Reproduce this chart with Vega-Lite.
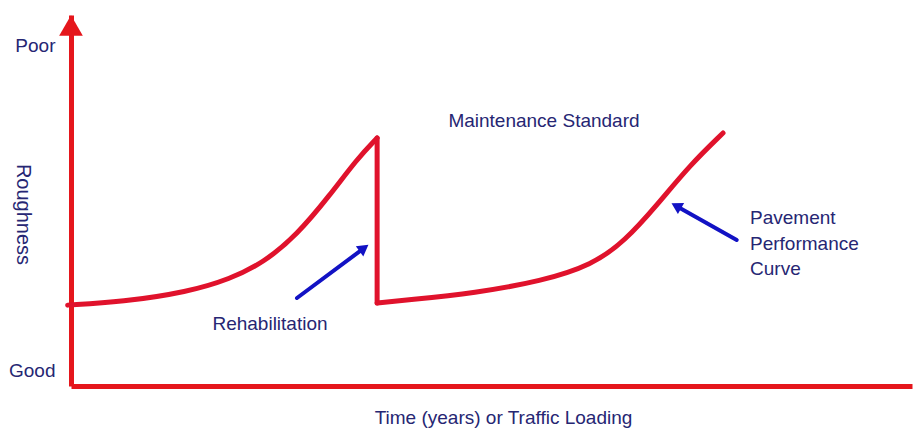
{
  "$schema": "https://vega.github.io/schema/vega-lite/v6.json",
  "width": 841,
  "height": 371,
  "autosize": {"type": "none"},
  "padding": {"left": 71, "top": 15, "right": 3, "bottom": 42},
  "background": "white",
  "config": {"view": {"stroke": null}},
  "datasets": {
    "curve": [
      {"seg": "before", "order": 1, "t": -0.4, "r": 21.8},
      {"seg": "before", "order": 2, "t": 6.06, "r": 22.64},
      {"seg": "before", "order": 3, "t": 13.91, "r": 25.34},
      {"seg": "before", "order": 4, "t": 18.91, "r": 28.84},
      {"seg": "before", "order": 5, "t": 22.83, "r": 33.15},
      {"seg": "before", "order": 6, "t": 26.87, "r": 40.7},
      {"seg": "before", "order": 7, "t": 30.8, "r": 51.48},
      {"seg": "before", "order": 8, "t": 34.01, "r": 61.19},
      {"seg": "before", "order": 9, "t": 36.4, "r": 66.85},
      {"seg": "drop", "order": 1, "t": 36.4, "r": 66.85},
      {"seg": "drop", "order": 2, "t": 36.4, "r": 22.37},
      {"seg": "after", "order": 1, "t": 36.4, "r": 22.37},
      {"seg": "after", "order": 2, "t": 40.07, "r": 23.18},
      {"seg": "after", "order": 3, "t": 48.04, "r": 25.07},
      {"seg": "after", "order": 4, "t": 56.0, "r": 28.3},
      {"seg": "after", "order": 5, "t": 61.95, "r": 32.61},
      {"seg": "after", "order": 6, "t": 65.87, "r": 39.08},
      {"seg": "after", "order": 7, "t": 69.68, "r": 48.79},
      {"seg": "after", "order": 8, "t": 73.6, "r": 59.57},
      {"seg": "after", "order": 9, "t": 77.53, "r": 68.19}
    ],
    "arrows": [
      {"arrow": "rehab", "end": false, "t": 26.87, "r": 23.72},
      {"arrow": "rehab", "end": true, "t": 34.84, "r": 37.17},
      {"arrow": "curve", "end": false, "t": 79.16, "r": 39.35},
      {"arrow": "curve", "end": true, "t": 71.97, "r": 48.54}
    ],
    "axisTip": [
      {"t": 0, "r": 97.2}
    ],
    "notesCenter": [
      {"label": "Maintenance Standard", "t": 56.24, "r": 69.81},
      {"label": "Rehabilitation", "t": 23.66, "r": 15.09}
    ],
    "notesLeft": [
      {"label": "Pavement", "t": 80.74, "r": 43.67},
      {"label": "Performance", "t": 80.74, "r": 36.66},
      {"label": "Curve", "t": 80.74, "r": 29.92}
    ]
  },
  "encoding": {
    "x": {
      "field": "t",
      "type": "quantitative",
      "scale": {"domain": [0, 100], "nice": false, "zero": false},
      "axis": {
        "domain": true,
        "domainColor": "#e5161c",
        "domainWidth": 5,
        "ticks": false,
        "labels": false,
        "grid": false,
        "title": "Time (years) or Traffic Loading",
        "titleFont": "Liberation Sans",
        "titleFontSize": 19,
        "titleFontWeight": "normal",
        "titleColor": "#262673",
        "titleX": 432,
        "titleY": 37,
        "titleAlign": "center",
        "titleBaseline": "alphabetic"
      }
    },
    "y": {
      "field": "r",
      "type": "quantitative",
      "scale": {"domain": [0, 100], "nice": false, "zero": false},
      "axis": {
        "domain": true,
        "domainColor": "#e5161c",
        "domainWidth": 5,
        "ticks": false,
        "tickSize": 0,
        "grid": false,
        "values": [4.31, 91.8],
        "labelExpr": "datum.value > 50 ? 'Poor' : 'Good'",
        "labelFont": "Liberation Sans",
        "labelFontSize": 19,
        "labelColor": "#262673",
        "labelPadding": 16,
        "labelFlush": false,
        "labelOverlap": false,
        "labelBound": false,
        "labelBaseline": "middle",
        "title": "Roughness",
        "titleFont": "Liberation Sans",
        "titleFontSize": 20,
        "titleFontWeight": "normal",
        "titleColor": "#262673",
        "titleAngle": 90,
        "titleX": -49,
        "titleY": 199,
        "titleAlign": "center",
        "titleBaseline": "middle"
      }
    }
  },
  "layer": [
    {
      "data": {"name": "curve"},
      "mark": {"type": "line", "interpolate": "basis", "color": "#e0122c", "strokeWidth": 5, "strokeCap": "round", "strokeJoin": "round"},
      "encoding": {
        "detail": {"field": "seg"},
        "order": {"field": "order", "type": "quantitative"}
      }
    },
    {
      "data": {"name": "arrows"},
      "mark": {"type": "line", "color": "#1212c4", "strokeWidth": 4, "strokeCap": "round"},
      "encoding": {
        "detail": {"field": "arrow"}
      }
    },
    {
      "data": {"name": "arrows"},
      "transform": [{"filter": "datum.end && datum.arrow == 'rehab'"}],
      "mark": {"type": "point", "shape": "triangle-up", "filled": true, "opacity": 1, "color": "#1212c4", "size": 160, "angle": 53.9}
    },
    {
      "data": {"name": "arrows"},
      "transform": [{"filter": "datum.end && datum.arrow == 'curve'"}],
      "mark": {"type": "point", "shape": "triangle-up", "filled": true, "opacity": 1, "color": "#1212c4", "size": 160, "angle": -60.5}
    },
    {
      "data": {"name": "axisTip"},
      "mark": {"type": "point", "shape": "triangle-up", "filled": true, "opacity": 1, "color": "#e5161c", "size": 560}
    },
    {
      "data": {"name": "notesCenter"},
      "mark": {"type": "text", "align": "center", "baseline": "alphabetic", "font": "Liberation Sans", "fontSize": 19, "color": "#262673"},
      "encoding": {"text": {"field": "label"}}
    },
    {
      "data": {"name": "notesLeft"},
      "mark": {"type": "text", "align": "left", "baseline": "alphabetic", "font": "Liberation Sans", "fontSize": 19, "color": "#262673"},
      "encoding": {"text": {"field": "label"}}
    }
  ]
}
